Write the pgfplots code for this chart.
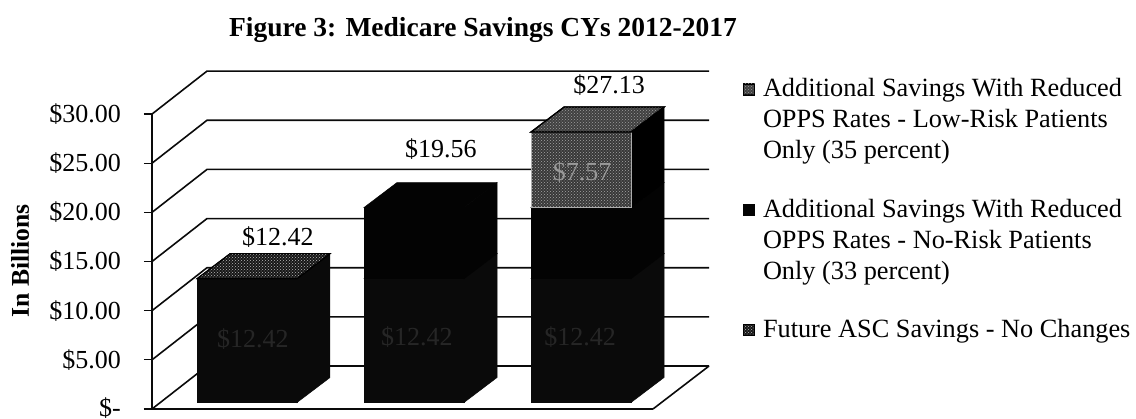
\documentclass[border=0pt]{standalone}
\usepackage{fontspec}
\setmainfont{Liberation Serif}
\usepackage{pgfplots}
\pgfplotsset{compat=1.18}
\usetikzlibrary{patterns}

\definecolor{inkdark}{HTML}{0A0A0A}
\definecolor{toneA}{HTML}{0A0A0A}
\definecolor{toneB}{HTML}{030303}
\definecolor{toneC}{HTML}{383838}
\definecolor{toneCtop}{HTML}{404040}
\definecolor{toneAtop}{HTML}{161616}

% one wall rule: along the left wall from the front edge, then across the back
\newcommand{\wallrule}[1]{%
  \addplot[inkdark,line width=1.6pt,forget plot]
    coordinates {(152,#1) (207,{#1+4.37}) (709,{#1+4.37})};}

% one stacked block: left edge, lower value, upper value, front, top and side styles
\newcommand{\block}[6]{%
  \addplot[#6,forget plot] coordinates {
    (#1+100,{0.66+#2*1.014}) (#1+133,{0.66+#2*1.014+2.54})
    (#1+133,{0.66+#3*1.014+2.54}) (#1+100,{0.66+#3*1.014})} -- cycle;
  \addplot[#4,forget plot] coordinates {
    (#1,{0.66+#2*1.014}) (#1+100,{0.66+#2*1.014})
    (#1+100,{0.66+#3*1.014}) (#1,{0.66+#3*1.014})} -- cycle;
  \addplot[#5,forget plot] coordinates {
    (#1,{0.66+#3*1.014}) (#1+100,{0.66+#3*1.014})
    (#1+133,{0.66+#3*1.014+2.54}) (#1+33,{0.66+#3*1.014+2.54})} -- cycle;}

\tikzset{
  faceA/.style={fill=toneA,draw=toneA,line width=0.5pt},
  faceB/.style={fill=toneB,draw=toneB,line width=0.5pt},
  topA/.style={fill=toneAtop,draw=black,line width=1pt,
    postaction={pattern=crosshatch dots,pattern color=gray!55}},
  topC/.style={fill=toneCtop,draw=black,line width=1.2pt,
    postaction={pattern=crosshatch dots,pattern color=gray!75}},
  frontC/.style={fill=toneC,draw=gray!65,line width=1pt,
    postaction={pattern=crosshatch dots,pattern color=gray!70}},
  sideC/.style={fill=black,draw=black,line width=0.5pt},
  inner/.style={font=\fontsize{26}{31}\selectfont},
}

\begin{document}
\begin{tikzpicture}
\useasboundingbox (-152pt,-9pt) rectangle (984pt,409pt);
\begin{axis}[
  scale only axis,
  width=557pt, height=337.9pt,
  xmin=152, xmax=709, ymin=0, ymax=34.37,
  clip=false,
  axis y line*=left,
  axis x line=none,
  axis line style={draw=none},
  ytick={0,5,10,15,20,25,30},
  yticklabels={\raisebox{4pt}{\$-}\hspace{12pt},\$5.00,\$10.00,\$15.00,\$20.00,\$25.00,\$30.00},
  tick align=outside,
  major tick length=8pt,
  ytick style={draw=inkdark,line width=1.2pt},
  yticklabel style={font=\fontsize{26}{31}\selectfont,inner sep=0pt,xshift=-23pt,anchor=east},
  ylabel={In Billions},
  every axis y label/.style={at={(axis cs:20,15.06)},rotate=90,anchor=center,
    font=\fontsize{25.6}{30}\selectfont\bfseries},
  title={Figure 3: Medicare Savings CYs 2012-2017},
  every axis title/.style={at={(axis cs:483,38.6)},anchor=center,
    font=\fontsize{27.5}{32}\selectfont\bfseries},
  legend style={at={(axis cs:743,33.95)},anchor=north west,draw=none,fill=none,
    inner sep=0pt,outer sep=0pt,
    font=\fontsize{26.3}{31}\selectfont,
    row sep=97pt,column sep=8pt,
    nodes={inner sep=0pt,outer sep=0pt}},
  legend cell align=left,
]
% back wall, left wall and floor
\wallrule{5}\wallrule{10}\wallrule{15}\wallrule{20}\wallrule{25}\wallrule{30}
\wallrule{0}
\addplot[inkdark,line width=1.6pt,forget plot] coordinates {(653,0) (709,4.37)};
\addplot[inkdark,line width=1.6pt,forget plot] coordinates {(152,0) (152,30)};
\addplot[inkdark,line width=2pt,forget plot] coordinates {(144,0) (653,0)};

% first column
\block{197}{0}{12.42}{faceA}{topA}{faceA}
% second column
\block{364}{0}{12.42}{faceA}{faceA}{faceA}
\block{364}{12.42}{19.56}{faceB}{faceB}{faceB}
% third column
\block{531}{0}{12.42}{faceA}{faceA}{faceA}
\block{531}{12.42}{19.56}{faceB}{faceB}{faceB}
\block{531}{19.56}{27.13}{frontC}{topC}{sideC}

% values printed on the blocks and above the columns
\node[inner,text=white!15!black] at (axis cs:253,7.1) {\$12.42};
\node[inner,text=white!15!black] at (axis cs:417,7.3) {\$12.42};
\node[inner,text=white!15!black] at (axis cs:580,7.3) {\$12.42};
\node[inner,text=white!60!black] at (axis cs:582,24.1) {\$7.57};
\node[inner] at (axis cs:278,17.5) {\$12.42};
\node[inner] at (axis cs:441,26.45) {\$19.56};
\node[inner] at (axis cs:609,32.96) {\$27.13};

% key
\addlegendimage{legend image code/.code={\fill[toneCtop,draw=toneA,line width=1pt] (5pt,-8pt) rectangle (16pt,3pt);
  \fill[pattern=crosshatch dots,pattern color=gray!80] (5pt,-8pt) rectangle (16pt,3pt);}}
\addlegendentry{\begin{tabular}[t]{@{}l@{}}Additional Savings With Reduced\\OPPS Rates - Low-Risk Patients\\Only (35 percent)\end{tabular}}
\addlegendimage{legend image code/.code={\fill[toneB] (5pt,-8pt) rectangle (16pt,3pt);}}
\addlegendentry{\begin{tabular}[t]{@{}l@{}}Additional Savings With Reduced\\OPPS Rates - No-Risk Patients\\Only (33 percent)\end{tabular}}
\addlegendimage{legend image code/.code={\fill[toneAtop,draw=toneB,line width=1pt] (5pt,-8pt) rectangle (16pt,3pt);
  \fill[pattern=crosshatch dots,pattern color=gray!55] (5pt,-8pt) rectangle (16pt,3pt);}}
\addlegendentry{\rule{0pt}{21.7pt}Future ASC Savings - No Changes}
\end{axis}
\end{tikzpicture}
\end{document}
